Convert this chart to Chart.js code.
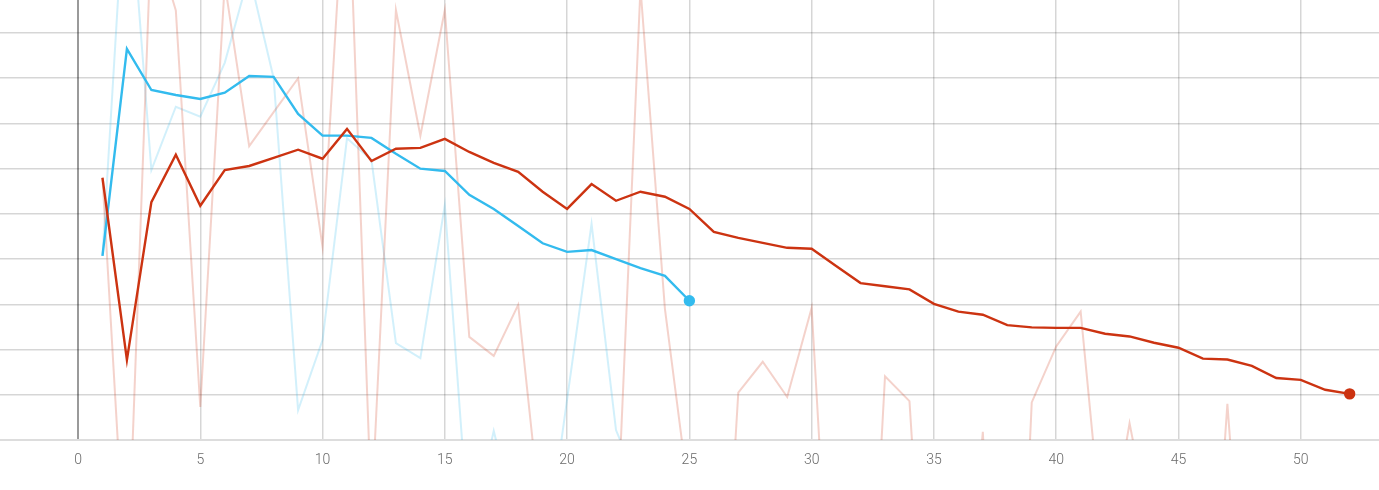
<!DOCTYPE html>
<html>
<head>
<meta charset="utf-8">
<script src="https://cdn.jsdelivr.net/npm/chart.js@4/dist/chart.umd.min.js"></script>
<style>
  html, body { margin: 0; padding: 0; background: #fff; }
  #wrap { width: 1379px; height: 490px; }
</style>
</head>
<body>
<div id="wrap"><canvas id="grafico"></canvas></div>
<script>
// passos (eixo x)
const steps = Array.from({ length: 52 }, (_, i) => i + 1);

// serie vermelha: bruto e suavizado
const redRaw = [5.80, -3.5, 11.3, 9.5, 0.73, 10.1, 6.5, 7.25, 8.0, 4.27,
  13.3, -1.6, 9.51, 6.73, 9.51, 2.28, 1.86, 2.99, -2.1, -3.0,
  -2.8, -2.5, 10.0, 2.9, -1.3, -8.0, 1.05, 1.73, 0.95, 2.92,
  -6.5, -8.6, 1.41, 0.86, -7.7, -6.0, 0.18, -11.0, 0.83, 2.07,
  2.84, -2.8, 0.37, -2.4, -4.0, -7.2, 0.80, -6.5, -5.0, -4.0,
  -5.0, -3.0];
const redSmooth = [5.80, 1.77, 5.26, 6.31, 5.18, 5.97, 6.06, 6.24, 6.42, 6.22,
  6.88, 6.17, 6.44, 6.46, 6.66, 6.37, 6.13, 5.93, 5.49, 5.11,
  5.66, 5.29, 5.49, 5.38, 5.11, 4.60, 4.47, 4.36, 4.25, 4.23,
  3.85, 3.47, 3.40, 3.33, 3.01, 2.84, 2.77, 2.54, 2.49, 2.48,
  2.48, 2.35, 2.29, 2.15, 2.04, 1.80, 1.78, 1.64, 1.37, 1.33,
  1.11, 1.02];

// serie azul: bruto e suavizado
const blueRaw = [4.07, 13.0, 5.97, 7.37, 7.15, 8.34, 10.3, 8.0, 0.66, 2.21,
  6.67, 6.19, 2.14, 1.81, 5.2, -2.2, 0.2, -2.0, -3.0, 0.9,
  4.78, 0.22, -1.1, -1.5, -1.0];
const blueSmooth = [4.07, 8.65, 7.74, 7.63, 7.54, 7.68, 8.05, 8.03, 7.21, 6.73,
  6.73, 6.68, 6.33, 6.00, 5.95, 5.42, 5.11, 4.73, 4.35, 4.16,
  4.20, 4.00, 3.80, 3.63, 3.08];

const xTicks = [0, 5, 10, 15, 20, 25, 30, 35, 40, 45, 50];

const pares = (ys) => ys.map((y, i) => ({ x: steps[i], y }));
const pontoFinal = (n) => (ctx) => ctx.dataIndex === n - 1 ? 4.5 : 0;

new Chart(document.getElementById('grafico'), {
    type: 'line',
    data: {
        datasets: [
            { data: pares(blueSmooth), borderColor: '#33bbee', backgroundColor: '#33bbee', borderWidth: 2.4, pointRadius: pontoFinal(blueSmooth.length), order: 1 },
            { data: pares(redSmooth), borderColor: '#cc3311', backgroundColor: '#cc3311', borderWidth: 2.4, pointRadius: pontoFinal(redSmooth.length), order: 0 },
            { data: pares(blueRaw), borderColor: 'rgba(51,187,238,0.22)', borderWidth: 2, pointRadius: 0, order: 3 },
            { data: pares(redRaw), borderColor: 'rgba(204,51,17,0.22)', borderWidth: 2, pointRadius: 0, order: 2 }
        ]
    },
    options: {
        responsive: true,
        maintainAspectRatio: false,
        animation: false,
        layout: { padding: 0, autoPadding: false },
        plugins: { legend: { display: false }, tooltip: { enabled: false } },
        elements: { line: { tension: 0 } },
        scales: {
            x: {
                type: 'linear',
                min: -3.19,
                max: 53.2,
                afterFit: (axis) => { axis.height = 50; },
                afterBuildTicks: (axis) => { axis.ticks = xTicks.map(v => ({ value: v })); },
                border: { display: false },
                grid: {
                    color: (c) => c.tick && c.tick.value === 0 ? '#9a9a9a' : 'rgba(0,0,0,0.16)',
                    lineWidth: (c) => c.tick && c.tick.value === 0 ? 2 : 1.5,
                    drawTicks: false
                },
                ticks: {
                    padding: 12,
                    color: '#6a6a6a',
                    font: { family: 'Roboto', size: 14, weight: '300' }
                }
            },
            y: {
                min: 0,
                max: 9.73,
                afterFit: (axis) => { axis.width = 0; },
                border: { display: false },
                grid: {
                    color: (c) => c.tick && c.tick.value === 0 ? '#dddddd' : 'rgba(0,0,0,0.16)',
                    lineWidth: (c) => c.tick && c.tick.value === 0 ? 2 : 1.5,
                    drawTicks: false
                },
                ticks: { display: false, stepSize: 1, includeBounds: false }
            }
        }
    }
});
</script>
</body>
</html>
